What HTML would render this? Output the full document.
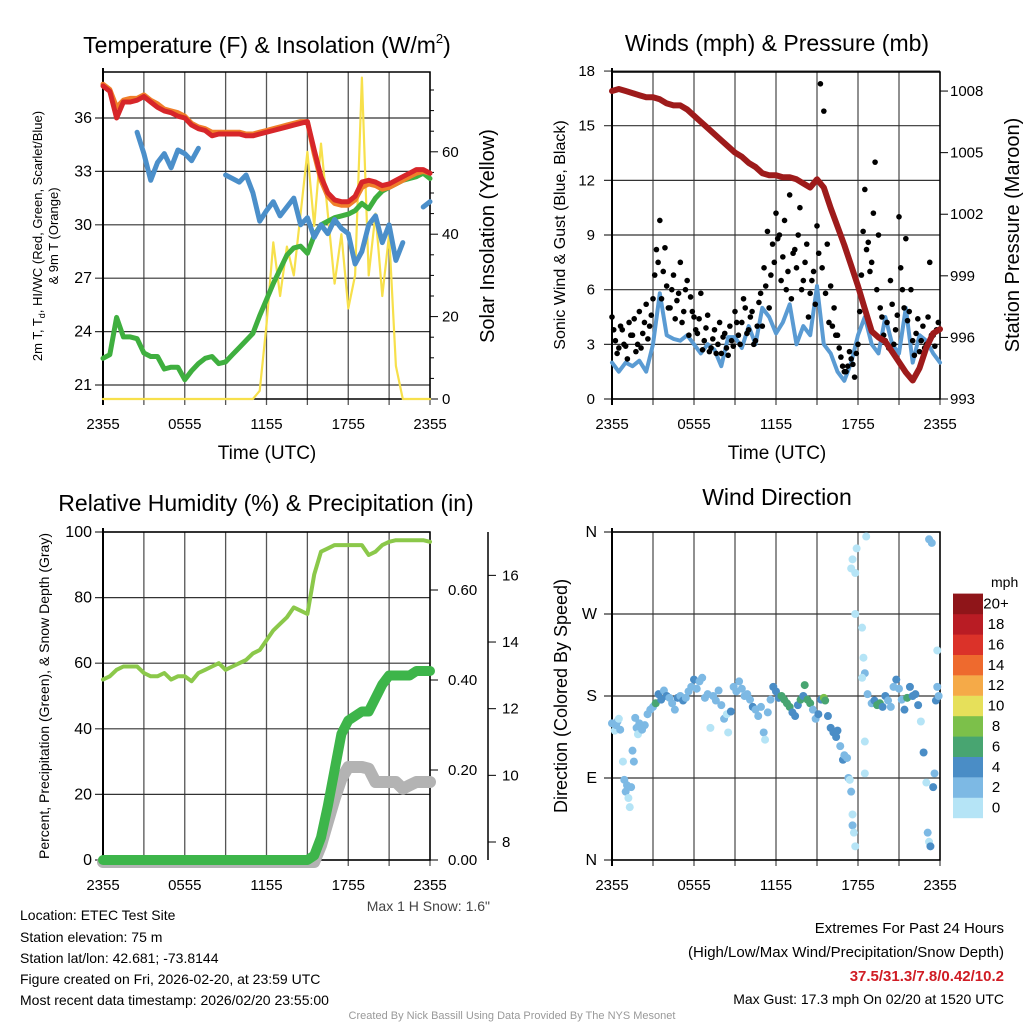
<!DOCTYPE html>
<html><head><meta charset="utf-8"><style>
body{margin:0;background:#fff;width:1024px;height:1024px;overflow:hidden}
svg{display:block;font-family:"Liberation Sans",Arial,sans-serif}
</style></head><body>
<svg id="s" width="1024" height="1024" viewBox="0 0 1024 1024">
<text x="267" y="53" font-size="23" text-anchor="middle">Temperature (F) &amp; Insolation (W/m<tspan font-size="13" dy="-10">2</tspan><tspan dy="10">)</tspan></text>
<text x="777" y="51" font-size="23" text-anchor="middle">Winds (mph) &amp; Pressure (mb)</text>
<text x="266" y="511" font-size="23" text-anchor="middle">Relative Humidity (%) &amp; Precipitation (in)</text>
<text x="777" y="505" font-size="23" text-anchor="middle">Wind Direction</text>
<text x="267" y="459" font-size="19" text-anchor="middle">Time (UTC)</text>
<text x="777" y="459" font-size="19" text-anchor="middle">Time (UTC)</text>
<text transform="translate(42,236) rotate(-90)" font-size="13" text-anchor="middle">2m T, T<tspan font-size="9" dy="3">d</tspan><tspan dy="-3">, HI/WC (Red, Green, Scarlet/Blue)</tspan></text>
<text transform="translate(58,236) rotate(-90)" font-size="13" text-anchor="middle">&amp; 9m T (Orange)</text>
<text transform="translate(494,236) rotate(-90)" font-size="20" text-anchor="middle">Solar Insolation (Yellow)</text>
<text transform="translate(565,235) rotate(-90)" font-size="16" text-anchor="middle">Sonic Wind &amp; Gust (Blue, Black)</text>
<text transform="translate(1019,235) rotate(-90)" font-size="20" text-anchor="middle">Station Pressure (Maroon)</text>
<text transform="translate(49,696) rotate(-90)" font-size="14" text-anchor="middle">Percent, Precipitation (Green), &amp; Snow Depth (Gray)</text>
<text transform="translate(567,696) rotate(-90)" font-size="18" text-anchor="middle">Direction (Colored By Speed)</text>
<text x="490" y="911" font-size="14" fill="#444" text-anchor="end">Max 1 H Snow: 1.6"</text>
<g font-size="14">
<text x="20" y="920">Location: ETEC Test Site</text>
<text x="20" y="942">Station elevation: 75 m</text>
<text x="20" y="963">Station lat/lon: 42.681; -73.8144</text>
<text x="20" y="984">Figure created on Fri, 2026-02-20, at 23:59 UTC</text>
<text x="20" y="1005">Most recent data timestamp: 2026/02/20 23:55:00</text>
</g>
<g font-size="15" text-anchor="end">
<text x="1004" y="933">Extremes For Past 24 Hours</text>
<text x="1004" y="957">(High/Low/Max Wind/Precipitation/Snow Depth)</text>
<text x="1004" y="981" fill="#d01c24" font-weight="bold">37.5/31.3/7.8/0.42/10.2</text>
<text x="1004" y="1004" font-size="14">Max Gust: 17.3 mph On 02/20 at 1520 UTC</text>
</g>
<text x="512" y="1019" font-size="11" fill="#999" text-anchor="middle">Created By Nick Bassill Using Data Provided By The NYS Mesonet</text>
<text x="991" y="587" font-size="14">mph</text>
</svg>
<script>
// ---- data (half-hourly, hours since 2355 UTC) ----
const hrs=[0,0.5,1,1.5,2,2.5,3,3.5,4,4.5,5,5.5,6,6.5,7,7.5,8,8.5,9,9.5,10,10.5,11,11.5,12,12.5,13,13.5,14,14.5,15,15.5,16,16.5,17,17.5,18,18.5,19,19.5,20,20.5,21,21.5,22,22.5,23,23.5,24];
const tempRed=[37.8,37.5,36.0,36.9,36.9,37.0,37.2,36.9,36.6,36.4,36.3,36.1,36.0,35.6,35.4,35.3,35.0,35.1,35.1,35.1,35.1,35.0,35.0,35.1,35.2,35.3,35.4,35.5,35.6,35.7,35.8,34.2,32.7,31.8,31.4,31.3,31.3,31.6,32.4,32.5,32.4,32.2,32.3,32.5,32.7,32.9,33.1,33.1,32.9];
const temp9m=[37.9,37.6,36.6,37.0,37.1,37.1,37.3,37.0,36.8,36.5,36.4,36.3,36.1,35.7,35.5,35.4,35.2,35.2,35.2,35.2,35.2,35.1,35.1,35.2,35.3,35.4,35.5,35.6,35.7,35.8,35.8,34.0,32.5,31.6,31.2,31.1,31.1,31.4,32.1,32.3,32.2,32.0,32.1,32.3,32.5,32.7,32.9,33.0,32.9];
const dewpt=[22.5,22.7,24.8,23.7,23.7,23.6,22.8,22.6,22.6,21.9,22.0,22.0,21.3,21.8,22.2,22.5,22.6,22.2,22.3,22.7,23.1,23.5,23.9,24.9,25.8,26.7,27.5,28.3,28.7,28.8,28.4,29.4,30.0,30.2,30.4,30.5,30.6,30.8,31.2,30.9,31.5,31.9,32.1,32.3,32.5,32.6,32.7,32.9,32.6];
const windChill=[null,null,null,null,null,35.2,34.0,32.5,33.5,34.0,33.2,34.2,34.0,33.6,34.3,null,33.8,null,32.8,32.6,32.4,32.8,31.8,30.2,30.8,31.3,30.5,31.0,31.5,30.0,30.4,29.3,30.0,29.5,30.3,29.8,29.5,27.8,28.5,30.0,30.5,29.0,30.0,28.0,29.0,null,null,31.0,31.3];
const solar=[0,0,0,0,0,0,0,0,0,0,0,0,0,0,0,0,0,0,0,0,0,0,0,2,18,38,25,37,30,45,60,42,62,45,28,40,22,30,78,30,45,25,40,8,0,0,0,0,0];
const windSpd=[2.0,1.5,2.0,1.8,2.1,1.5,3.0,5.8,3.5,3.3,3.2,3.5,3.0,2.5,3.0,2.7,1.8,3.4,3.4,2.8,4.0,3.0,5.0,4.5,3.6,4.2,5.2,3.0,4.0,3.5,6.2,3.0,2.5,1.5,1.0,2.0,3.5,4.5,3.0,2.5,4.5,3.0,2.5,5.0,2.0,3.5,3.2,2.5,2.0];
const pressure=[1008.0,1008.1,1008.0,1007.9,1007.8,1007.7,1007.7,1007.6,1007.4,1007.3,1007.3,1007.1,1006.8,1006.5,1006.2,1005.9,1005.6,1005.3,1005.0,1004.8,1004.5,1004.3,1004.0,1003.9,1003.9,1003.8,1003.8,1003.7,1003.5,1003.3,1003.7,1003.3,1002.3,1001.4,1000.5,999.5,998.5,997.4,996.3,996.0,995.8,995.3,994.8,994.3,993.9,994.5,995.5,996.2,996.4];
const gustA=[4.5,3.2,2.8,3.8,2.9,4.2,3.5,2.6,4.8,3.6,5.2,4.0,5.5,8.2,9.8,7.0,6.2,5.0,6.8,5.4,7.5,4.8,6.5,5.6,4.5,3.6,5.8,3.2,4.6,2.8,3.8,3.0,2.5,3.6,2.4,3.2,4.8,3.5,4.2,5.0,3.8,4.8,3.2,5.3,4.0,6.2,5.0,8.5,10.2,9.0,7.8,6.0,11.2,8.0,7.2,10.5,6.5,8.5,5.8,7.0,9.5,17.3,15.8,8.5,6.2,5.0,3.5,2.3,1.5,1.8,2.2,1.2,3.0,6.8,11.5,8.6,7.5,13.0,9.0,4.5,3.2,2.8,5.2,3.8,10.0,6.0,8.8,4.8,3.2,3.6,2.6,4.0,3.0,7.5,3.5,3.8];
const gustB=[3.8,2.5,4.0,3.0,2.2,3.5,4.4,3.0,2.8,4.2,3.3,4.6,6.8,7.5,5.5,8.3,5.0,6.0,4.4,5.8,4.2,6.0,3.5,4.8,3.8,4.4,2.7,3.9,2.6,3.3,2.5,4.2,3.4,2.8,4.0,2.9,4.2,3.0,5.5,3.6,4.5,3.0,4.0,5.8,7.2,9.2,6.8,7.5,8.8,6.5,9.8,7.0,5.5,8.2,9.0,6.0,7.5,4.5,6.5,5.2,8.0,7.2,5.8,4.2,4.0,3.5,2.8,1.8,1.5,2.6,1.9,2.5,4.8,9.2,8.2,7.0,10.2,6.0,5.0,3.5,4.2,6.5,3.0,4.6,7.2,5.0,4.3,6.0,2.4,4.4,3.2,2.8,4.5,3.5,2.9,4.2];
const rh=[55,56,58,59,59,59,57,56,56,57,55,56,56,54.5,57,58,59,60,58,59,60,61,63,64,67,70,72,74,77,76,75,87,94,95,96,96,96,96,96,93,94,96,97,97.5,97.5,97.5,97.5,97.5,97];
const precip=[0,0,0,0,0,0,0,0,0,0,0,0,0,0,0,0,0,0,0,0,0,0,0,0,0,0,0,0,0,0,0,0.01,0.05,0.12,0.2,0.28,0.31,0.32,0.33,0.33,0.36,0.39,0.41,0.41,0.41,0.41,0.42,0.42,0.42];
const snow=[0,0,0,0,0,0,0,0,0,0,0,0,0,0,0,0,0,0,0,0,0,0,0,0,0,0,0,0,0,0,0,0,7.9,8.6,9.3,9.9,10.25,10.25,10.25,10.2,9.8,9.8,9.8,9.8,9.6,9.7,9.8,9.8,9.8];
const dirHrs=[0.0,0.2,0.3,0.4,0.5,0.6,0.8,0.9,1.0,1.1,1.2,1.3,1.4,1.5,1.6,1.7,1.8,1.9,2.0,2.2,2.4,2.6,2.8,3.0,3.2,3.4,3.6,3.8,4.0,4.2,4.4,4.6,4.8,5.0,5.2,5.4,5.6,5.8,6.0,6.2,6.4,6.6,6.8,7.0,7.2,7.4,7.6,7.8,8.0,8.2,8.4,8.5,8.7,8.9,9.1,9.3,9.5,9.7,9.9,10.1,10.3,10.5,10.7,10.9,11.1,11.2,11.4,11.6,11.8,12.0,12.2,12.4,12.6,12.8,13.0,13.2,13.4,13.6,13.8,14.0,14.1,14.3,14.5,14.7,14.9,15.1,15.3,15.5,15.6,15.8,16.0,16.2,16.4,16.5,16.7,16.9,17.0,17.2,17.3,17.4,17.5,17.6,17.6,17.7,17.8,17.5,17.6,17.8,17.9,17.8,18.3,18.4,18.5,18.3,18.5,18.6,18.5,18.7,19.0,19.2,19.4,19.6,19.8,20.0,20.2,20.4,20.6,20.8,21.0,21.2,21.4,21.6,21.8,22.0,22.2,22.4,22.6,22.8,23.0,23.1,23.2,23.3,23.2,23.4,23.5,23.6,23.7,23.8,23.8,23.9];
const dirDeg=[150,142,148,152,155,143,108,88,75,82,68,58,80,120,108,156,145,138,150,143,148,160,165,168,172,182,176,186,180,178,172,165,178,180,175,178,185,190,198,188,196,200,178,182,145,180,175,186,170,155,160,140,163,190,185,196,188,180,182,176,168,165,158,168,140,132,162,176,190,185,178,180,176,172,168,162,158,170,176,180,192,176,172,165,155,160,176,178,175,158,145,140,135,142,125,110,115,112,90,88,75,50,38,30,15,320,330,315,342,270,255,222,205,200,130,355,95,182,172,175,170,172,168,180,175,168,190,198,188,176,165,178,190,180,182,170,152,118,85,30,20,15,352,348,80,95,175,190,230,180];
const dirSpd=[2,1,2,2,1,2,1,2,2,2,1,1,2,2,3,2,2,1,2,2,2,2,2,3,6,4,4,2,4,3,2,2,4,3,4,2,2,2,4,2,2,2,2,2,1,2,2,2,2,2,1,1,4,2,2,2,2,2,2,2,4,2,2,2,2,1,2,2,4,4,4,6,6,6,6,4,4,4,6,4,6,6,6,2,2,4,4,8,6,4,4,4,4,4,2,4,2,2,2,0,2,0,2,0,0,0,0,0,0,0,0,0,2,0,0,0,0,2,2,4,6,6,4,4,2,2,2,4,2,2,4,6,4,4,4,4,0,4,0,2,0,4,2,2,4,2,4,2,0,2];
const tempTicks=[21,24,27,30,33,36];
const solarTicks=[0,20,40,60];
const windTicks=[0,3,6,9,12,15,18];
const presTicks=[993,996,999,1002,1005,1008];
const rhTicks=[0,20,40,60,80,100];
const precTicks=[0,0.2,0.4,0.6];
const snowTicks=[8,10,12,14,16];
const dirTicks=[0,90,180,270,360];
const dirLabels=['N','E','S','W','N'];
const timeTicks=[0,6,12,18,24];
const timeLabels=['2355','0555','1155','1755','2355'];
const cbLabels=['0','2','4','6','8','10','12','14','16','18','20+'];
const cbColors=['#b5e4f6','#7db9e4','#4a8dc6','#48a571','#7cc04a','#e6e05a','#f5aa48','#ee6a2e','#db3229','#b91c24','#8f1519'];

// ---- scales ----
const XL=h=>103+h*327/24, XR=h=>612+h*328/24;
const YT=v=>385-(v-21)*17.8, YS=v=>399-v*4.12;
const YW=v=>399-v*18.22, YP=v=>399-(v-993)*20.53;
const YRH=v=>860-v*3.28, YPR=v=>860-v*450, YSN=v=>Math.min(862,842-(v-8)*33.33);
const YD=v=>860-v*328/360;

const svg=document.getElementById('s');
const NS='http://www.w3.org/2000/svg';
function mk(tag,attrs,parent){const e=document.createElementNS(NS,tag);for(const k in attrs)e.setAttribute(k,attrs[k]);(parent||svg).appendChild(e);return e;}
function ln(x1,y1,x2,y2,c,w,p){return mk('line',{x1,y1,x2,y2,stroke:c,'stroke-width':w},p);}
function tx(x,y,s,anchor,size,p){const t=mk('text',{x,y,'text-anchor':anchor,'font-size':size},p);t.textContent=s;return t;}
function path(xs,ys,X,Y,color,w,name){let d='',pen=false;for(let i=0;i<xs.length;i++){if(ys[i]===null){pen=false;continue;}d+=(pen?'L':'M')+X(xs[i]).toFixed(1)+' '+Y(ys[i]).toFixed(1);pen=true;}
 const p=mk('path',{d,fill:'none',stroke:color,'stroke-width':w,'stroke-linejoin':'round','stroke-linecap':'round'});
 
 
 return p;}
function frame(x0,x1,y0,y1,X,hy,name){const g=mk('g',{});
 
 
 for(let k=0;k<=8;k++){const x=X(k*3);ln(x,y0,x,y1+6,'#555',1.3,g);}
 hy.forEach(y=>ln(x0-8,y,x1,y,'#333',1.2,g));
 mk('rect',{x:x0,y:y0,width:x1-x0,height:y1-y0,fill:'none',stroke:'#000','stroke-width':1.5},g);
 ln(x0,y0-4,x0,y1+6,'#000',2,g);
 timeTicks.forEach((h,i)=>tx(X(h),y1+30,timeLabels[i],'middle',15,g));
 return g;}

// Panel 1
const g1=frame(103,430,72,399,XL,tempTicks.map(YT),'temperature-plot');
tempTicks.forEach(v=>tx(92,YT(v)+5,v,'end',16,g1));
solarTicks.forEach(v=>{ln(430,YS(v),438,YS(v),'#000',1,g1);tx(442,YS(v)+5,v,'start',15,g1);});
for(let v=5;v<80;v+=5)if(v%20)ln(430,YS(v),434,YS(v),'#000',1,g1);
path(hrs,solar,XL,YS,'#f7e04b',2.2,'solar-line');
path(hrs,dewpt,XL,YT,'#3faf3f',5,'dewpoint-line');
path(hrs,windChill,XL,YT,'#4b8fca',5,'windchill-line');
path(hrs,temp9m,XL,YT,'#f07f2a',5,'temp-9m-line');
path(hrs,tempRed,XL,YT,'#d7262a',5,'temp-2m-line');

// Panel 2
const g2=frame(612,940,72,399,XR,windTicks.map(YW),'winds-plot');
windTicks.forEach(v=>tx(595,YW(v)+5,v,'end',15,g2));
presTicks.forEach(v=>{ln(940,YP(v),948,YP(v),'#000',1,g2);tx(950,YP(v)+5,v,'start',15,g2);});
path(hrs,windSpd,XR,YW,'#5a9bd3',4,'sonic-wind-line');
[gustA,gustB].forEach((arr,j)=>arr.forEach((v,i)=>{const c=mk('circle',{cx:XR(i*0.25+j*0.125),cy:YW(v),r:2.8,fill:'#000'});
 
 }));
path(hrs,pressure,XR,YP,'#9e1b1b',6,'pressure-line');

// Panel 3
const g3=frame(103,430,532,860,XL,rhTicks.map(YRH),'humidity-plot');
rhTicks.forEach(v=>tx(92,YRH(v)+5,v,'end',16,g3));
precTicks.forEach(v=>{ln(430,YPR(v),438,YPR(v),'#000',1,g3);tx(448,YPR(v)+5,v.toFixed(2),'start',15,g3);});
ln(488,532,488,860,'#000',1.5,g3);
snowTicks.forEach(v=>{ln(488,YSN(v),496,YSN(v),'#000',1,g3);tx(502,YSN(v)+5,v,'start',15,g3);});
path(hrs,snow,XL,YSN,'#b3b3b3',12,'snow-depth-line');
path(hrs,precip,XL,YPR,'#3db54a',10,'precip-line');
path(hrs,rh,XL,YRH,'#8bc84a',4,'rh-line');

// Panel 4
const g4=frame(612,940,532,860,XR,dirTicks.map(YD),'direction-plot');
dirTicks.forEach((v,i)=>tx(597,YD(v)+5,dirLabels[i],'end',16,g4));
dirHrs.forEach((h,i)=>{const c=mk('circle',{cx:XR(h),cy:YD(dirDeg[i]),r:4,fill:cbColors[Math.min(10,Math.floor(dirSpd[i]/2))]});
 
 });
cbColors.forEach((c,i)=>{const y=818-(i+1)*20.4;const r=mk('rect',{x:953,y,width:30,height:20.6,fill:c});
 
 
 tx(996,y+15,cbLabels[i],'middle',15);});
</script>
</body></html>
